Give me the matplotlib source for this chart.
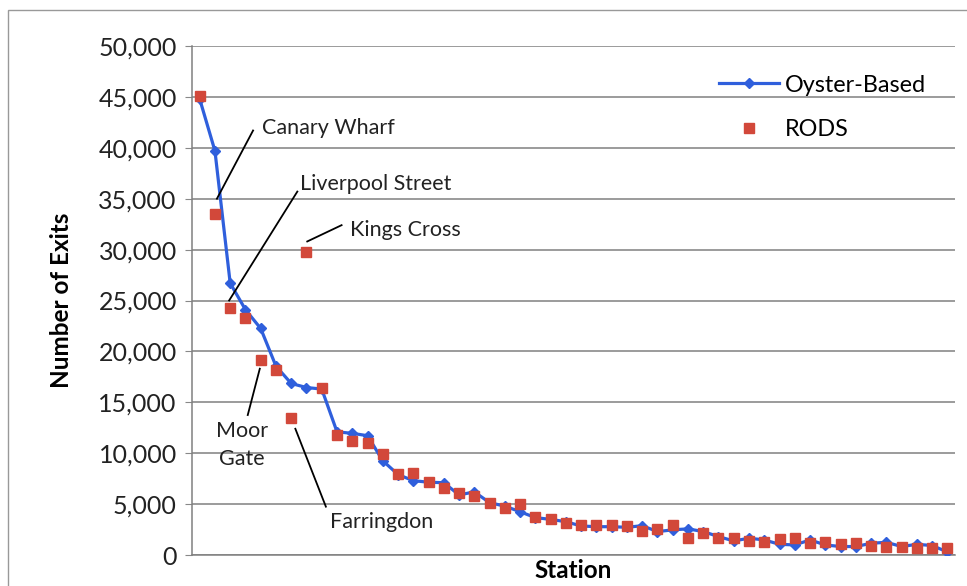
import matplotlib.pyplot as plt
from matplotlib.patches import Rectangle
from matplotlib.ticker import FuncFormatter

plt.rcParams['font.family'] = ['Lato', 'DejaVu Sans']

stations = list(range(50))

oyster = [44800, 39700, 26700, 24100, 22250, 18550, 16850, 16450, 16300, 12100,
          11950, 11720, 9260, 7900, 7300, 7150, 7100, 5900, 6200, 5140,
          4800, 4250, 3670, 3500, 3270, 2850, 2780, 2780, 2720, 2880,
          2300, 2470, 2570, 2300, 1810, 1380, 1650, 1480, 1050, 990,
          1480, 990, 830, 830, 1150, 1250, 830, 1050, 930, 300]

rods = [45100, 33450, 24300, 23300, 19150, 18200, 13500, 29750, 16450, 11780,
        11220, 10970, 9920, 7950, 8050, 7200, 6610, 6060, 5800, 5140,
        4650, 4980, 3760, 3530, 3170, 2950, 2950, 2910, 2880, 2390,
        2600, 2960, 1650, 2210, 1650, 1650, 1380, 1320, 1550, 1650,
        1150, 1320, 1050, 1150, 930, 760, 830, 730, 660, 730]

# label text, text anchor (x, y), alignment, leader line from -> to
notes = [
    ('Canary Wharf', (4.1, 41900), 'left', (1.13, 35000), (3.5, 41700)),
    ('Liverpool Street', (6.6, 36400), 'left', (1.93, 25000), (6.4, 35700)),
    ('Kings Cross', (9.85, 31900), 'left', (7.05, 30800), (9.3, 32400)),
    ('Moor\nGate', (2.78, 10800), 'center', (3.94, 18300), (3.15, 13750)),
    ('Farringdon', (8.55, 3250), 'left', (6.27, 12400), (8.27, 4750)),
]

fig = plt.figure(figsize=(9.67, 5.86), dpi=100)
ax = fig.add_axes([0.1986, 0.0529, 0.789, 0.8686])

ax.plot(stations, oyster, color='#2F5FDC', lw=2.3, marker='D', ms=5,
        label='Oyster-Based', zorder=3)
ax.plot(stations, rods, ls='none', marker='s', ms=7.5, color='#D2483A',
        label='RODS', zorder=4)

for text, pos, ha, p0, p1 in notes:
    ax.plot([p0[0], p1[0]], [p0[1], p1[1]], color='black', lw=1.3, zorder=5)
    ax.text(pos[0], pos[1], text, fontsize=15.5, ha=ha, va='center',
            color='#222222', linespacing=1.45)

ax.set_xlim(-0.5, 49.5)
ax.set_ylim(0, 50000)
ax.set_yticks(range(0, 50001, 5000))
ax.yaxis.set_major_formatter(FuncFormatter(lambda v, p: f'{int(v):,}'))
ax.set_xticks([])
ax.tick_params(axis='y', labelsize=18, length=5, color='#888888',
               labelcolor='#222222', pad=6)
ax.grid(axis='y', color='#808080', lw=1.1)
ax.set_axisbelow(True)
for s in ['top', 'right']:
    ax.spines[s].set_visible(False)
for s in ['left', 'bottom']:
    ax.spines[s].set_color('#808080')
    ax.spines[s].set_linewidth(1.1)

ax.set_ylabel('Number of Exits', fontsize=17.5, fontweight='bold', labelpad=18)
ax.set_xlabel('Station', fontsize=17.5, fontweight='bold', labelpad=3)

ax.legend(loc='upper right', bbox_to_anchor=(0.99, 0.985), frameon=False,
          fontsize=16.8, handlelength=2.6, handletextpad=0.25, labelspacing=1.0)

fig.patches.append(Rectangle((8 / 967, -0.05), 1.1, 1 - 10 / 586 + 0.05,
                             transform=fig.transFigure, fill=False,
                             edgecolor='#999999', lw=1.0))

fig.savefig('out.png', dpi=100)
